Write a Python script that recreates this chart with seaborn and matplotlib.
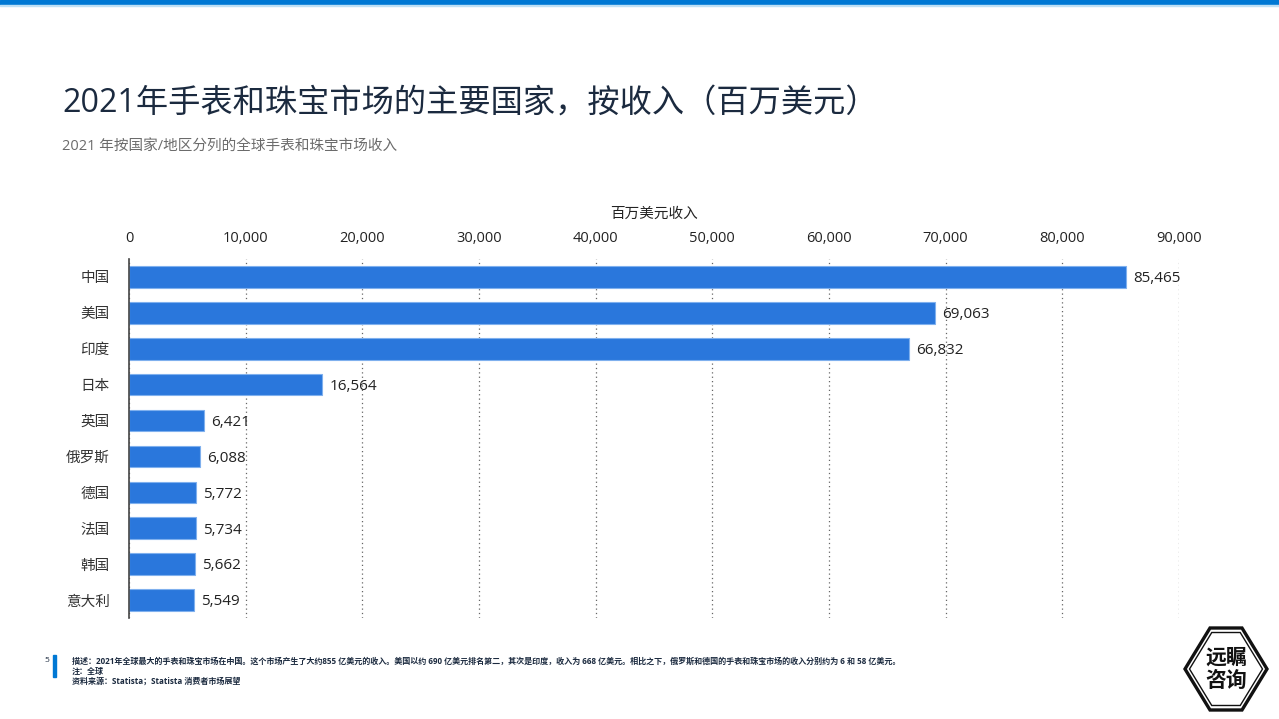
import numpy as np
import pandas as pd
import matplotlib.pyplot as plt
import seaborn as sns
from matplotlib.patches import Polygon, Rectangle

# Data
countries = ['中国', '美国', '印度', '日本', '英国', '俄罗斯', '德国', '法国', '韩国', '意大利']
revenue = [85465, 69063, 66832, 16564, 6421, 6088, 5772, 5734, 5662, 5549]
x_ticks = [0, 10000, 20000, 30000, 40000, 50000, 60000, 70000, 80000, 90000]

df = pd.DataFrame({'country': countries, 'revenue': revenue})

sns.set_style('white')
plt.rcParams['font.family'] = ['Open Sans', 'Noto Sans CJK SC', 'DejaVu Sans']

fig = plt.figure(figsize=(12.79, 7.19), dpi=100)
ax = fig.add_axes([0.1009, 0.1405, 0.8209, 0.4993])

bar_color = '#2a77dc'
sns.barplot(data=df, y='country', x='revenue', color=bar_color, width=0.6,
            saturation=1, edgecolor='#7fb0ee', linewidth=0.8, ax=ax)

ax.set_xlim(0, 90000)
ax.set_xticks(x_ticks)
ax.set_xticklabels([f'{v:,}' for v in x_ticks])
ax.xaxis.tick_top()
ax.xaxis.set_label_position('top')
ax.set_xlabel('百万美元收入', fontsize=10.5, color='#222222', labelpad=10)
ax.set_ylabel('')
ax.tick_params(axis='x', length=0, labelsize=10.5, labelcolor='#222222', pad=9)
ax.tick_params(axis='y', length=0, labelsize=10.5, labelcolor='#333333', pad=14)

ax.grid(axis='x', linestyle=(0, (1, 2.5)), color='#666666', linewidth=0.9)
ax.set_axisbelow(True)
for s in ['top', 'right', 'bottom']:
    ax.spines[s].set_visible(False)
ax.spines['left'].set_color('#444444')
ax.spines['left'].set_linewidth(1.2)

for i, v in enumerate(revenue):
    ax.text(v + 600, i + 0.05, f'{v:,}', va='center', ha='left',
            fontsize=11, color='#222222')

# Top stripe
fig.patches.append(Rectangle((0, 1 - 4 / 719), 1, 4 / 719, transform=fig.transFigure,
                             color='#0078d4', zorder=0))
fig.patches.append(Rectangle((0, 1 - 6 / 719), 1, 1.5 / 719, transform=fig.transFigure,
                             color='#bfe0f5', zorder=0))

# Titles
fig.text(62 / 1279, 1 - 103 / 719, '2021年手表和珠宝市场的主要国家，按收入（百万美元）',
         fontsize=23.2, color='#1b2a3f', va='center', ha='left')
fig.text(62 / 1279, 1 - 146 / 719, '2021 年按国家/地区分列的全球手表和珠宝市场收入',
         fontsize=10.5, color='#6b6b6b', va='center', ha='left')

# Footer
fig.patches.append(Rectangle((53 / 1279, 1 - 677 / 719), 3 / 1279, 22 / 719,
                             transform=fig.transFigure, color='#0078d4'))
fig.text(47 / 1279, 1 - 661 / 719, '5', fontsize=6, color='#1b2a3f', va='center', ha='center')
notes = ['描述：2021年全球最大的手表和珠宝市场在中国。这个市场产生了大约855 亿美元的收入。美国以约 690 亿美元排名第二，其次是印度，收入为 668 亿美元。相比之下，俄罗斯和德国的手表和珠宝市场的收入分别约为 6 和 58 亿美元。',
         '注：全球',
         '资料来源：Statista；Statista 消费者市场展望']
for k, line in enumerate(notes):
    fig.text(72 / 1279, 1 - (661 + k * 10) / 719, line, fontsize=5.8, color='#1b2a3f',
             va='center', ha='left', fontweight='bold')

# Logo
cx, cy = 1226, 669
hx = [cx - 41, cx - 16, cx + 16, cx + 41, cx + 16, cx - 16]
hy = [cy, cy - 41, cy - 41, cy, cy + 41, cy + 41]
pts = [(x / 1279, 1 - y / 719) for x, y in zip(hx, hy)]
fig.patches.append(Polygon(pts, closed=True, fill=False, edgecolor='#111111',
                           linewidth=2.4, transform=fig.transFigure))
inner = [(cx + (x - cx) * 0.89, cy + (y - cy) * 0.89) for x, y in zip(hx, hy)]
pts2 = [(x / 1279, 1 - y / 719) for x, y in inner]
fig.patches.append(Polygon(pts2, closed=True, fill=False, edgecolor='#111111',
                           linewidth=1.0, transform=fig.transFigure))
fig.text(cx / 1279, 1 - (cy - 11) / 719, '远瞩', fontsize=15, color='#111111',
         ha='center', va='center', fontweight='bold')
fig.text(cx / 1279, 1 - (cy + 12) / 719, '咨询', fontsize=15, color='#111111',
         ha='center', va='center', fontweight='bold')

fig.savefig('out.png', dpi=100)
